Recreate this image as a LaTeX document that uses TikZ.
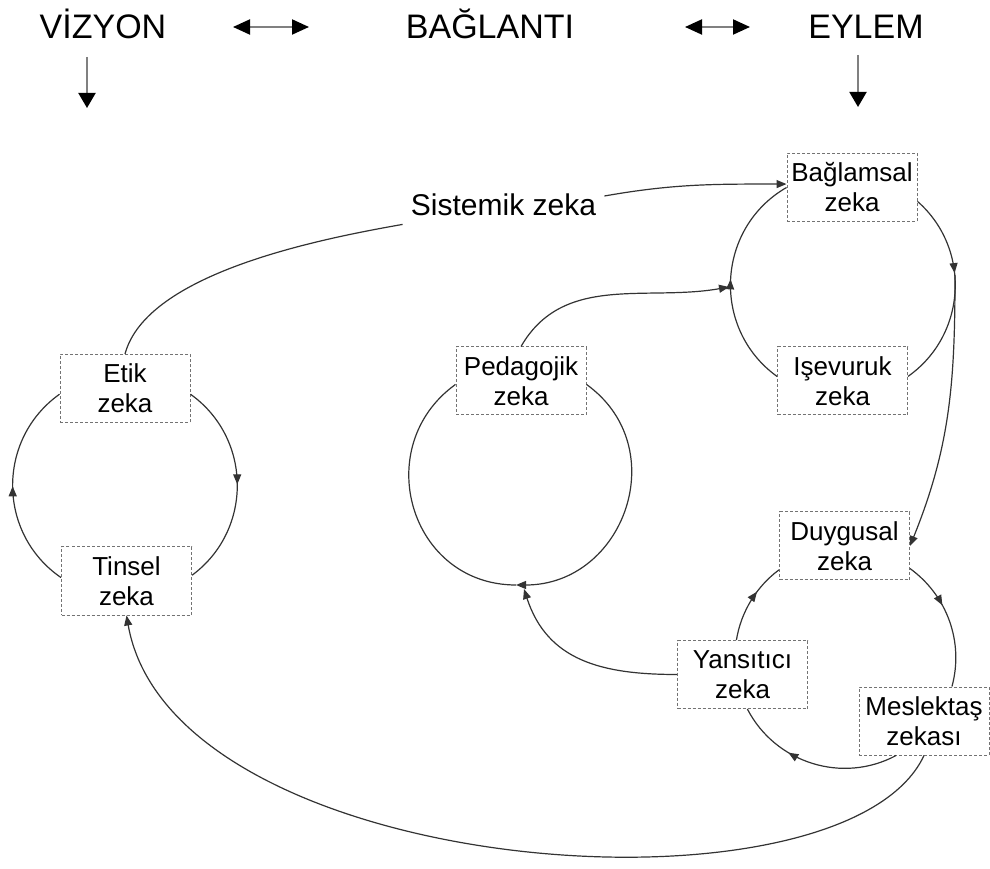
\documentclass[tikz,border=0pt]{standalone}
\usepackage{fontspec}
\setmainfont{Liberation Sans}
\usetikzlibrary{arrows.meta,decorations.markings}

\begin{document}
\begin{tikzpicture}[x=0.5pt,y=0.5pt,
    zekabox/.style={draw=black!55, dash pattern=on 1.5pt off 1pt, line width=0.5pt,
      fill=white, minimum width=65pt, minimum height=34pt, inner sep=0pt,
      align=center, font=\fontsize{13pt}{15pt}\selectfont},
    baslik/.style={anchor=base, font=\fontsize{17pt}{20pt}\selectfont},
    cizgi/.style={line width=0.6pt, black!80},
    buyukok/.style={line width=1pt, black!50},
    midarrow/.style={postaction={decorate}, decoration={markings,
      mark=at position #1 with {\arrow{Triangle[length=5pt,width=4pt]}}}},
    >={Triangle[length=5pt,width=4pt]}]
  \useasboundingbox (0,0) rectangle (990,868);

  % top row
  \node[baslik] (vizyon) at (103,829) {VİZYON};
  \node[baslik] (baglanti) at (490,829) {BAĞLANTI};
  \node[baslik] (eylem) at (866,829) {EYLEM};
  \coordinate (va) at (233,841);
  \coordinate (vb) at (309,841);
  \coordinate (ea) at (685,841);
  \coordinate (eb) at (750,841);
  \coordinate (vd1) at (87,811);
  \coordinate (vd2) at (87,760);
  \coordinate (ed1) at (858,813);
  \coordinate (ed2) at (858,761);
  \draw [buyukok, {Triangle[length=8.5pt,width=7.5pt,black]}-{Triangle[length=8.5pt,width=7.5pt,black]}] (va) -- (vb);
  \draw [buyukok, {Triangle[length=8.5pt,width=7.5pt,black]}-{Triangle[length=8.5pt,width=7.5pt,black]}] (ea) -- (eb);
  \draw [buyukok, -{Triangle[length=7.5pt,width=8.5pt,black]}] (vd1) -- (vd2);
  \draw [buyukok, -{Triangle[length=7.5pt,width=8.5pt,black]}] (ed1) -- (ed2);

  % boxes
  \node[inner sep=4pt, font=\fontsize{15pt}{18pt}\selectfont] (sis) at (503.5,663) {Sistemik zeka};
  \node[zekabox] (etik) at (125,479.5) {Etik\\zeka};
  \node[zekabox] (tinsel) at (126.5,287) {Tinsel\\zeka};
  \node[zekabox] (ped) at (521,487) {Pedagojik\\zeka};
  \node[zekabox] (bag) at (852,680.5) {Bağlamsal\\zeka};
  \node[zekabox] (ise) at (842.5,487) {Işevuruk\\zeka};
  \node[zekabox] (duy) at (844.5,322) {Duygusal\\zeka};
  \node[zekabox] (yan) at (742.5,193.5) {Yansıtıcı\\zeka};
  \node[zekabox] (mes) at (924,147) {Meslektaş\\zekası};

  \coordinate (pedbot) at (516,283);
  \coordinate (pedin) at (524,279);
  \coordinate (bagin) at (729,581);
  \coordinate (bagout) at (955,593);

  % sistemik
  \draw [cizgi, ->] ([yshift=4.5pt]sis.east) to[out=10,in=180] (bag.177);
  \draw [cizgi] (etik.north) to[out=75,in=190,looseness=0.7] (sis.south west);

  % etik - tinsel
  \draw [cizgi, midarrow=0.5] (tinsel.177) to[out=145.5,in=215.5,looseness=1.08] (etik.185);
  \draw [cizgi, midarrow=0.5] (etik.-5) to[out=-35.5,in=36.4,looseness=1.07] (tinsel.5);

  % pedagojik
  \draw [cizgi, ->] (ped.-3) to[out=-35.8,in=0,looseness=1.3] (pedbot);
  \draw [cizgi] (pedbot) to[out=180,in=215.8,looseness=1.3] (ped.183);
  \draw [cizgi, ->] (ped.north) to[out=60,in=190] (bagin);

  % baglamsal - isevuruk
  \draw [cizgi, midarrow=0.41] (bag.-12) to[out=-41.3,in=35.2,looseness=1.05] (ise.4);
  \draw [cizgi, midarrow=0.5] (ise.176) to[out=144.2,in=210,looseness=1.1] (bag.west);
  \draw [cizgi, ->] (bagout) to[out=-90,in=68] (duy.east);

  % duygusal - meslektas - yansitici
  \draw [cizgi, midarrow=0.37] (duy.-19) to[out=-35.9,in=74.7,looseness=0.94] (mes.51);
  \draw [cizgi, midarrow=0.65] (mes.231) to[out=-151.8,in=-62.7,looseness=1] (yan.-82);
  \draw [cizgi, midarrow=0.63] (yan.100) to[out=80.8,in=216.5,looseness=0.88] (duy.200);
  \draw [cizgi, ->] (yan.west) to[out=180,in=-72,looseness=1.1] (pedin);
  \draw [cizgi, ->] (mes.south) to[out=-115,in=-80,out looseness=0.6,in looseness=0.85] (tinsel.south);
\end{tikzpicture}
\end{document}
